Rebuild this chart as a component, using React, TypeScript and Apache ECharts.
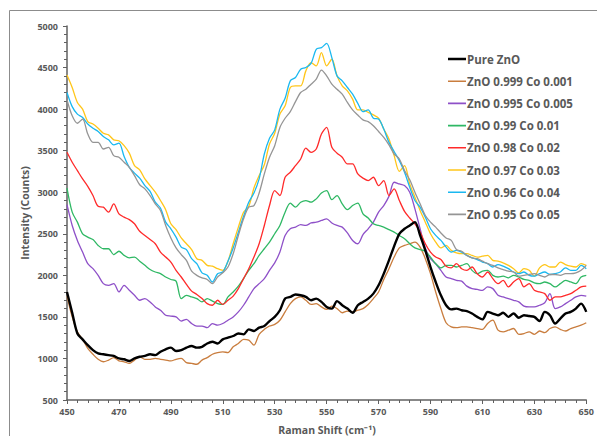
import React, { useEffect, useRef } from "react";
import * as echarts from "echarts";

const X_START = 450;
const X_STEP = 2;

const pureZnO = [1800,1550,1300,1230,1160,1100,1060,1050,1040,1030,1000,990,970,1000,1020,1030,1050,1040,1080,1110,1130,1090,1100,1130,1150,1130,1140,1180,1200,1180,1230,1250,1270,1300,1290,1350,1330,1370,1390,1450,1500,1580,1720,1740,1770,1760,1740,1700,1720,1680,1620,1600,1690,1640,1600,1550,1640,1680,1720,1780,1880,2020,2180,2350,2500,2560,2600,2640,2480,2300,2100,1920,1760,1640,1590,1600,1580,1570,1540,1500,1470,1560,1540,1520,1550,1500,1540,1490,1520,1510,1500,1450,1560,1520,1420,1480,1540,1560,1600,1660,1560];
const co001 = [1750,1500,1320,1230,1120,1050,990,960,980,1010,970,960,940,980,1020,990,990,1000,990,980,970,990,1000,950,940,930,980,1010,1050,1070,1080,1070,1140,1180,1230,1220,1160,1290,1350,1390,1410,1460,1560,1660,1720,1740,1700,1650,1660,1620,1590,1630,1600,1550,1570,1560,1580,1600,1650,1720,1800,1950,2080,2220,2330,2360,2380,2400,2340,2200,2020,1800,1600,1430,1380,1370,1380,1380,1370,1360,1350,1420,1460,1340,1320,1340,1360,1290,1300,1320,1290,1330,1310,1360,1380,1350,1330,1360,1380,1400,1430];
const co005 = [2850,2600,2420,2280,2140,2080,2000,1900,1880,1900,1800,1880,1820,1760,1700,1720,1680,1620,1580,1520,1510,1500,1450,1470,1420,1390,1390,1370,1420,1400,1420,1460,1500,1560,1640,1740,1840,1900,1960,2060,2150,2280,2480,2560,2580,2610,2600,2630,2640,2660,2680,2630,2600,2580,2510,2420,2380,2490,2560,2640,2760,2840,2950,3120,3100,3080,3000,2800,2560,2330,2200,2140,2060,1980,1960,1940,1930,1870,1840,1830,1820,1860,1840,1760,1740,1720,1700,1680,1630,1620,1620,1640,1670,1780,1600,1620,1660,1700,1740,1760,1750];
const co01 = [3050,2760,2640,2500,2460,2430,2360,2320,2320,2250,2290,2240,2210,2220,2170,2120,2070,2040,2020,1980,1950,1930,1720,1760,1740,1720,1680,1720,1690,1660,1650,1740,1800,1870,1960,2060,2140,2240,2320,2400,2500,2600,2760,2870,2820,2880,2900,2880,2920,2990,3020,2910,2960,2860,2790,2840,2870,2740,2690,2620,2600,2580,2550,2520,2480,2440,2380,2330,2310,2290,2220,2140,2090,2120,2120,2100,2120,2140,2060,2020,2050,2060,2000,1980,1990,1970,2000,1980,1950,1940,1910,1900,1920,1900,1860,1900,1940,1920,1900,1980,2000];
const co02 = [3480,3360,3260,3160,3070,2960,2830,2820,2760,2860,2740,2700,2670,2620,2530,2480,2430,2380,2280,2220,2160,2060,1980,1890,1810,1770,1720,1660,1640,1700,1650,1700,1750,1840,1960,2080,2220,2380,2600,2840,3020,2960,3180,3240,3320,3400,3530,3480,3520,3700,3780,3540,3470,3420,3340,3340,3220,3170,3140,3180,3080,3140,2960,3040,2900,2770,2690,2620,2520,2380,2280,2220,2190,2110,2090,2140,2080,2060,2100,2020,1980,2040,1960,1900,1940,1860,1920,1960,1860,1900,1820,1800,1780,1700,1740,1740,1760,1780,1820,1860,1870];
const co03 = [4410,4260,4080,4000,3850,3820,3770,3710,3690,3630,3620,3560,3470,3320,3270,3160,3080,3000,2900,2790,2620,2550,2450,2380,2310,2200,2180,2120,2110,2080,2060,2170,2380,2580,2760,2830,3050,3200,3330,3580,3710,3940,4040,4260,4280,4280,4460,4560,4520,4680,4520,4600,4400,4280,4220,4120,3990,3990,3960,3930,3890,3760,3640,3440,3250,3320,3100,2940,2780,2640,2500,2400,2330,2360,2300,2270,2260,2260,2240,2220,2230,2240,2180,2170,2150,2120,2080,2030,2080,2060,1990,2090,2130,2100,2100,2160,2130,2110,2100,2140,2120];
const co04 = [4200,4030,3940,3900,3820,3770,3730,3670,3630,3570,3590,3430,3300,3230,3170,3080,3010,2880,2810,2640,2560,2460,2340,2310,2200,2140,2030,2000,1920,2020,2040,2170,2330,2520,2710,2880,2990,3160,3460,3650,3750,4000,4130,4340,4380,4480,4500,4550,4720,4740,4790,4620,4400,4340,4260,4180,4070,3970,3990,3890,3880,3760,3600,3490,3380,3240,3060,2900,2820,2700,2560,2480,2420,2340,2280,2300,2280,2240,2210,2190,2160,2140,2100,2130,2110,2080,2040,2020,2040,2000,1990,2020,2040,2010,2020,2040,2090,2060,2060,2120,2080];
const co05 = [4110,3920,3830,3880,3700,3600,3600,3520,3540,3440,3420,3360,3300,3200,3090,3040,2960,2860,2780,2600,2450,2330,2250,2180,2050,2000,1970,1950,1900,1980,2030,2100,2260,2480,2680,2820,2840,2990,3220,3420,3560,3780,3890,3970,4090,4200,4240,4300,4360,4470,4400,4300,4240,4180,4080,3990,3930,3870,3850,3800,3730,3660,3570,3460,3400,3260,3150,3000,2860,2720,2640,2580,2510,2450,2420,2310,2290,2240,2210,2200,2170,2140,2120,2090,2070,2050,2040,1990,2000,2010,2020,2000,1980,2010,2010,2000,2020,2020,2030,2060,2120];

const seriesNames = [
  "Pure ZnO",
  "ZnO 0.999 Co 0.001",
  "ZnO 0.995 Co 0.005",
  "ZnO 0.99 Co 0.01",
  "ZnO 0.98 Co 0.02",
  "ZnO 0.97 Co 0.03",
  "ZnO 0.96 Co 0.04",
  "ZnO 0.95 Co 0.05",
];
const seriesValues = [pureZnO, co001, co005, co01, co02, co03, co04, co05];
const seriesColors = ["#000000", "#c97d3e", "#8e50c8", "#2fb864", "#ff2a2a", "#ffc61a", "#1ab8f0", "#959595"];
const seriesWidths = [2.4, 1.3, 1.3, 1.3, 1.3, 1.3, 1.3, 1.3];
const seriesZ = [10, 2, 3, 4, 5, 6, 7, 8];

const X_MIN = 450, X_MAX = 650, X_INTERVAL = 20;
const Y_MIN = 500, Y_MAX = 5000, Y_INTERVAL = 500;

const FONT = "'Open Sans', 'Liberation Sans', sans-serif";
const TEXT_GRAY = "#595959";

// thin horizontal bar icon inside an 18x12 box (tiny corner specks fix the box)
const lineIcon = (w: number) => {
  const a = (6 - w / 2).toFixed(2);
  const b = (6 + w / 2).toFixed(2);
  return `path://M0,0 L0.01,0 L0.01,0.01 Z M17.99,11.99 L18,11.99 L18,12 Z M0,${a} L18,${a} L18,${b} L0,${b} Z`;
};

export default function App() {
  const ref = useRef<HTMLDivElement>(null);
  useEffect(() => {
    document.body.style.margin = "0";
    const chart = echarts.init(ref.current!, null, { renderer: "svg" });
    const series = seriesValues.map((vals, si) => ({
      name: seriesNames[si],
      type: "line",
      data: vals.map((v, i) => [X_START + i * X_STEP, v]),
      showSymbol: false,
      symbol: "none",
      smooth: 0.3,
      z: seriesZ[si],
      lineStyle: { color: seriesColors[si], width: seriesWidths[si] },
      itemStyle: { color: seriesColors[si] },
    }));
    chart.setOption({
      animation: false,
      backgroundColor: "#ffffff",
      grid: { left: 67, right: 10, top: 26, bottom: 36, containLabel: false },
      legend: {
        orient: "vertical",
        left: 448,
        top: 53,
        padding: 0,
        itemWidth: 18,
        itemHeight: 12,
        itemGap: 10.2,
        data: seriesNames.map((n, i) => ({
          name: n,
          icon: lineIcon(seriesWidths[i] + 0.3),
          itemStyle: { color: seriesColors[i], borderWidth: 0 },
        })),
        textStyle: {
          fontFamily: FONT,
          fontSize: 11.5,
          lineHeight: 12,
          fontWeight: "bold",
          color: TEXT_GRAY,
          padding: [0, 0, 0, -4],
        },
      },
      xAxis: {
        type: "value",
        min: X_MIN,
        max: X_MAX,
        interval: X_INTERVAL,
        axisLine: { show: true, onZero: false, lineStyle: { color: "#606060", width: 1.5 } },
        axisTick: { show: true, length: 4, lineStyle: { color: "#606060", width: 1 } },
        minorTick: { show: true, splitNumber: 5, length: 3, lineStyle: { color: "#606060", width: 1 } },
        splitLine: { show: false },
        axisLabel: { fontFamily: FONT, fontSize: 9, fontWeight: "bold", color: TEXT_GRAY, margin: 7 },
      },
      yAxis: {
        type: "value",
        min: Y_MIN,
        max: Y_MAX,
        interval: Y_INTERVAL,
        axisLine: { show: true, onZero: false, lineStyle: { color: "#606060", width: 1.5 } },
        axisTick: { show: true, length: 4, lineStyle: { color: "#606060", width: 1 } },
        minorTick: { show: true, splitNumber: 5, length: 3, lineStyle: { color: "#606060", width: 1 } },
        splitLine: { show: false },
        axisLabel: {
          fontFamily: FONT,
          fontSize: 9,
          fontWeight: "bold",
          color: TEXT_GRAY,
          margin: 9,
          formatter: (v: number) => String(v),
        },
      },
      graphic: [
        {
          type: "rect",
          shape: { x: 9.5, y: 10.5, width: 620, height: 460 },
          style: { fill: "transparent", stroke: "#8c8c8c", lineWidth: 1 },
          silent: true,
          z: 100,
        },
        {
          type: "text",
          x: 25,
          y: 213,
          rotation: Math.PI / 2,
          style: {
            text: "Intensity (Counts)",
            fontFamily: FONT,
            fontSize: 10.5,
            fontWeight: "bold",
            fill: TEXT_GRAY,
            align: "center",
            verticalAlign: "middle",
          },
        },
        {
          type: "text",
          x: 327,
          y: 430,
          style: {
            text: "Raman Shift (cm\u207B\u00B9)",
            fontFamily: FONT,
            fontSize: 10.5,
            fontWeight: "bold",
            fill: TEXT_GRAY,
            align: "center",
            verticalAlign: "middle",
          },
        },
      ],
      series,
    });
    return () => chart.dispose();
  }, []);
  return <div ref={ref} style={{ width: 597, height: 436 }} />;
}
